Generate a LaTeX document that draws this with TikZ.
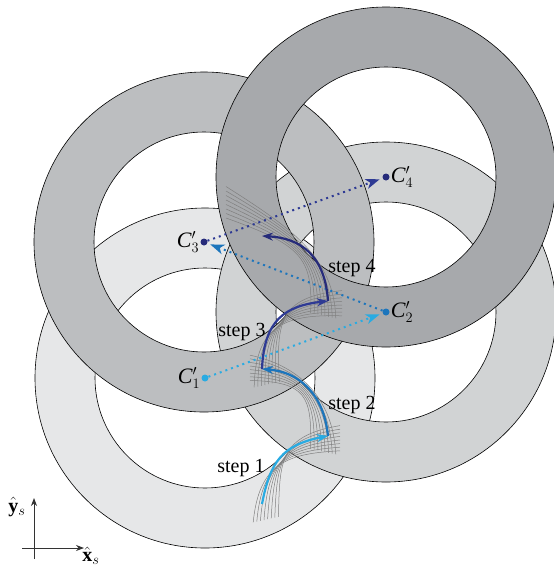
\documentclass[tikz,border=0pt]{standalone}
\usepackage{amsmath}
\usepackage{fontspec}
\setmainfont{Liberation Serif}
\usetikzlibrary{arrows.meta}
\definecolor{ringA}{HTML}{E6E7E8}
\definecolor{ringB}{HTML}{D1D3D4}
\definecolor{ringC}{HTML}{BCBEC0}
\definecolor{ringD}{HTML}{A7A9AC}
\definecolor{blueA}{HTML}{29ABE2}
\definecolor{blueB}{HTML}{1C75BC}
\definecolor{blueC}{HTML}{2E3A94}
\definecolor{blueD}{HTML}{262B7A}
\definecolor{fangray}{HTML}{808080}
\begin{document}
\begin{tikzpicture}[x=1pt,y=-1pt,
  ringline/.style={draw=black,line width=0.6pt},
  centerdot/.style={circle,inner sep=0pt,minimum size=7pt},
  dotarrow/.style={line width=2pt,dash pattern=on 2pt off 4pt,
     -{Stealth[length=14pt,width=10pt,inset=4pt]},shorten >=3pt},
  stepcurve/.style={line width=2.2pt,-{Stealth[length=11pt,width=8pt,inset=3.5pt]}},
  fan/.style={draw=fangray,line width=0.5pt},
  lbl/.style={font=\fontsize{20}{22}\selectfont,inner sep=1pt},
  clbl/.style={font=\fontsize{22}{24}\selectfont,inner sep=1pt},
  axis/.style={draw=black!80,line width=0.8pt,-{Stealth[length=8pt,width=6pt]}}]
\useasboundingbox (0,0) rectangle (554,568);
% rings
\fill[ringA,even odd rule] (205,378) circle (170pt) (205,378) circle (110pt);
\draw[ringline] (205,378) circle (170pt) (205,378) circle (110pt);
\fill[ringB,even odd rule] (386,312) circle (170pt) (386,312) circle (110pt);
\draw[ringline] (386,312) circle (170pt) (386,312) circle (110pt);
\fill[ringC,even odd rule] (204,242) circle (170pt) (204,242) circle (110pt);
\draw[ringline] (204,242) circle (170pt) (204,242) circle (110pt);
\fill[ringD,even odd rule] (386,177) circle (170pt) (386,177) circle (110pt);
\draw[ringline] (386,177) circle (170pt) (386,177) circle (110pt);
% gray fans
\foreach \k in {-3,...,4}{
  \draw[fan] (264+3.6*\k,520-0.8*\k) .. controls (268+3*\k,462) and (284-1.5*\k,446-2.5*\k) .. (340,440-3.6*\k);
  \draw[fan] (325-3.6*\k,452-0.8*\k) .. controls (324-3*\k,395) and (300+1.5*\k,372+2.5*\k) .. (250,366+3.6*\k);
  \draw[fan] (265+3.6*\k,385-0.8*\k) .. controls (264+3*\k,322) and (285-1.5*\k,307-2.5*\k) .. (342,305-3.6*\k);
  \draw[fan] (325-3.6*\k,316-0.8*\k) .. controls (325-3*\k,257) and (295+1.5*\k,235+2.5*\k) .. (226,200+4.5*\k);
}
% centers
\node[centerdot,fill=blueA] (C1) at (205,378) {};
\node[centerdot,fill=blueB] (C2) at (386,312) {};
\node[centerdot,fill=blueD] (C3) at (204,242) {};
\node[centerdot,fill=blueD] (C4) at (386,177) {};
\node[clbl,anchor=east] at (C1.west) {$\mathit{C}'_1$};
\node[clbl,anchor=west] at (C2.east) {$\mathit{C}'_2$};
\node[clbl,anchor=east] at (C3.west) {$\mathit{C}'_3$};
\node[clbl,anchor=west] at (C4.east) {$\mathit{C}'_4$};
% dotted arrows
\draw[dotarrow,blueA] (C1) -- (C2);
\draw[dotarrow,blueB] (C2) -- (C3);
\draw[dotarrow,blueC] (C3) -- (C4);
% step curves
\coordinate (P0) at (262,504);
\coordinate (P1) at (328,436);
\coordinate (P2) at (262,369);
\coordinate (P3) at (328,301);
\coordinate (P4) at (262,236);
\draw[stepcurve,blueA] (P0) .. controls (270,462) and (282,445) .. (P1);
\draw[stepcurve,blueB] (P1) .. controls (324,395) and (300,372) .. (P2);
\draw[stepcurve,blueC] (P2) .. controls (264,320) and (285,306) .. (P3);
\draw[stepcurve,blueD] (P3) .. controls (325,255) and (300,238) .. (P4);
% step labels
\node[lbl] (s1) at (241,468) {step 1};
\node[lbl] (s2) at (352,405) {step 2};
\node[lbl] (s3) at (242,332) {step 3};
\node[lbl] (s4) at (352,268) {step 4};
% axes
\coordinate (Ox0) at (22,548);
\coordinate (Ox1) at (84,548);
\coordinate (Oy0) at (34,559);
\coordinate (Oy1) at (34,498);
\draw[axis] (Ox0) -- (Ox1);
\draw[axis] (Oy0) -- (Oy1);
\node[lbl] (ylab) at (17,507) {$\hat{\mathbf{y}}_s$};
\node[lbl] (xlab) at (91,556) {$\hat{\mathbf{x}}_s$};
\end{tikzpicture}
\end{document}
